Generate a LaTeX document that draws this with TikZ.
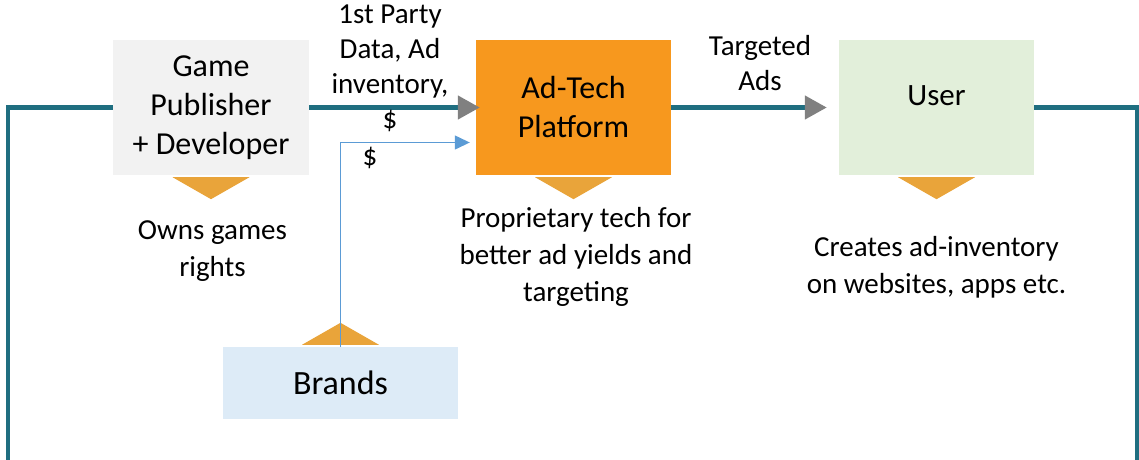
\documentclass[tikz,border=0pt]{standalone}
\usepackage{fontspec}
\setmainfont{Carlito}
\usetikzlibrary{arrows.meta,calc}
\definecolor{flowteal}{HTML}{1F6E80}
\definecolor{gamegray}{HTML}{F2F2F2}
\definecolor{adorange}{HTML}{F7981E}
\definecolor{usergreen}{HTML}{E2EFDA}
\definecolor{brandblue}{HTML}{DDEBF7}
\definecolor{markorange}{HTML}{E9A43A}
\definecolor{tipgray}{HTML}{808080}
\definecolor{cashblue}{HTML}{5B9BD5}
\begin{document}
\begin{tikzpicture}[x=1pt,y=-1pt,
  box/.style={inner sep=0pt, minimum width=195pt, minimum height=135pt,
    align=center, font=\fontsize{32}{39}\selectfont},
  note/.style={align=center, inner sep=0pt, anchor=base,
    font=\fontsize{29}{37}\selectfont},
  flowlabel/.style={align=center, inner sep=0pt, anchor=base,
    font=\fontsize{29}{35}\selectfont},
  mainline/.style={draw=flowteal, line width=4.5pt},
  flowarrow/.style={mainline,
    -{Triangle[length=22pt,width=23pt,color=tipgray,fill=tipgray]}},
  cashline/.style={draw=cashblue, line width=1.3pt,
    -{Triangle[length=15pt,width=14pt,color=cashblue,fill=cashblue]}},
  marker/.style={fill=markorange},
]
\useasboundingbox (0,0) rectangle (1139,459);

% boxes
\node[box, fill=gamegray, minimum width=196pt] (game) at (211,107.5)
  {Game\\Publisher\\+ Developer};
\node[box, fill=adorange] (adtech) at (573.5,107.5) {Ad-Tech\\Platform};
\node[box, fill=usergreen, font=\fontsize{31}{38}\selectfont,
  text height=20pt, text depth=25pt] (user) at (936.5,107.5) {User};
\node[box, fill=brandblue, minimum width=235pt, minimum height=72pt,
  font=\fontsize{34}{40}\selectfont] (brands) at (340.5,383) {Brands};

% loop ends running down the page edges
\coordinate (lbot) at (8,462);
\coordinate (rbot) at (1137,462);

% main flow
\draw[mainline] (game.west) -| (lbot);
\draw[mainline] (user.east) -| (rbot);
\draw[flowarrow, shorten >=-4pt] (game.east) -- (adtech.west);
\draw[flowarrow, shorten >=12pt] (adtech.east) -- (user.west);

% markers under / above the boxes
\fill[marker] ($(game.south)+(-38.5,2)$) -- ++(77,0) -- ++(-38.5,22) -- cycle;
\fill[marker] ($(adtech.south)+(-38.5,2)$) -- ++(77,0) -- ++(-38.5,22) -- cycle;
\fill[marker] ($(user.south)+(-38.5,2)$) -- ++(77,0) -- ++(-38.5,22) -- cycle;
\fill[marker] ($(brands.north)+(-38.5,-2)$) -- ++(77,0) -- ++(-38.5,-22) -- cycle;

% brand money
\draw[cashline] (brands.north) |- ($(adtech.west)+(-6,35)$);

% flow labels (anchored at the baseline of the last line)
\node[flowlabel] (datalbl) at (390,128) {1st Party\\Data, Ad\\inventory,\\\$};
\node[flowlabel] (adslbl) at (760,90) {Targeted\\Ads};
\node[flowlabel] (cashlbl) at (370,165) {\$};

% notes
\node[note] (gamenote) at (212.5,276) {Owns games\\rights};
\node[note] (adnote) at (576,301) {Proprietary tech for\\better ad yields and\\targeting};
\node[note] (usernote) at (936.5,293) {Creates ad-inventory\\on websites, apps etc.};
\end{tikzpicture}
\end{document}
